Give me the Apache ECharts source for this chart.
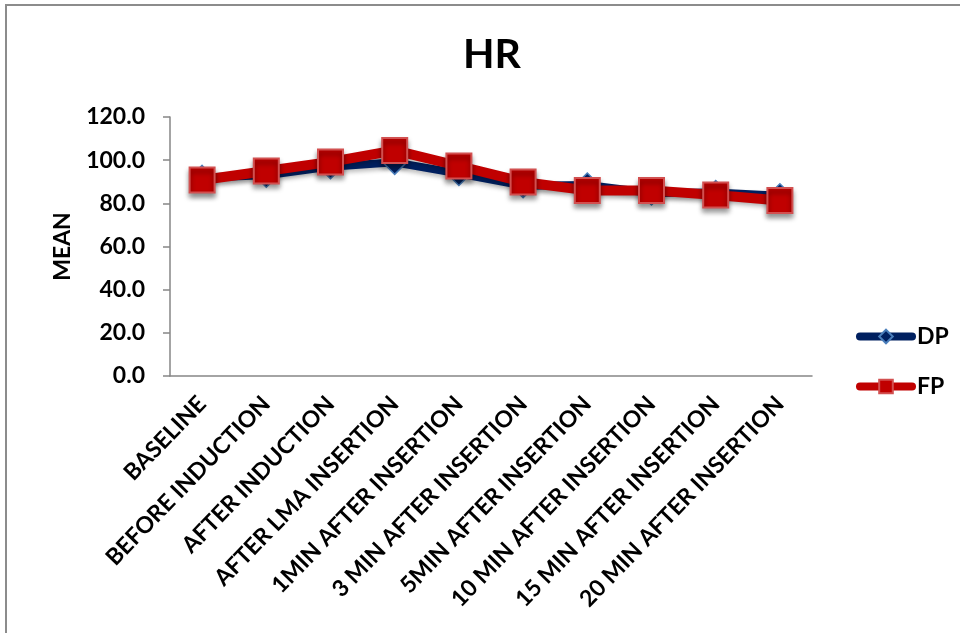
<!DOCTYPE html>
<html>
<head>
<meta charset="utf-8">
<script src="https://cdn.jsdelivr.net/npm/echarts@6/dist/echarts.min.js"></script>
<style>
  html, body { margin: 0; padding: 0; background: #ffffff; }
  #chart { width: 960px; height: 633px; }
</style>
</head>
<body>
<div id="chart"></div>
<script>
// Time points of the heart-rate measurement
const categories = [
  'BASELINE', 'BEFORE INDUCTION', 'AFTER INDUCTION', 'AFTER LMA INSERTION',
  '1MIN AFTER INSERTION', '3 MIN AFTER INSERTION', '5MIN AFTER INSERTION',
  '10 MIN AFTER INSERTION', '15 MIN AFTER INSERTION', '20 MIN AFTER INSERTION'
];

// Mean heart rate per group
const dpValues = [92.0, 93.0, 97.0, 99.0, 93.8, 88.2, 88.5, 84.8, 85.0, 83.5];
const fpValues = [90.8, 95.0, 99.2, 104.5, 97.3, 89.9, 86.0, 86.0, 83.9, 81.3];

// Value axis ticks
const yMin = 0;
const yMax = 120;
const yStep = 20;

const FONT = 'Lato, "Liberation Sans", sans-serif';

const chart = echarts.init(document.getElementById('chart'), null, { renderer: 'canvas' });

chart.setOption({
  backgroundColor: '#ffffff',
  animation: false,
  graphic: [{
    type: 'rect',
    shape: { x: 6, y: 5, width: 1000, height: 700 },
    style: { fill: 'none', stroke: '#8c8c8c', lineWidth: 2 },
    silent: true
  }],
  title: {
    text: 'HR',
    left: 458,
    top: 29,
    textStyle: { fontFamily: FONT, fontSize: 41, fontWeight: 'bold', color: '#000' }
  },
  legend: {
    orient: 'vertical',
    left: 851,
    top: 320,
    itemWidth: 52,
    itemHeight: 17,
    itemGap: 27,
    lineStyle: { width: 8, cap: 'round' },
    textStyle: { fontFamily: FONT, fontSize: 23, fontWeight: 'bold', color: '#000' },
    data: ['DP', 'FP']
  },
  grid: { left: 170, right: 148, top: 117, bottom: 257, containLabel: false },
  xAxis: {
    type: 'category',
    data: categories,
    boundaryGap: true,
    axisLine: { lineStyle: { color: '#868686', width: 1.5 } },
    axisTick: { show: false },
    axisLabel: {
      rotate: 46,
      interval: 0,
      margin: 24,
      fontFamily: FONT,
      fontSize: 23,
      fontWeight: 'bold',
      color: '#000'
    }
  },
  yAxis: {
    type: 'value',
    min: yMin,
    max: yMax,
    interval: yStep,
    name: 'MEAN',
    nameLocation: 'middle',
    nameGap: 96,
    nameRotate: 90,
    nameTextStyle: { fontFamily: FONT, fontSize: 23, fontWeight: 'bold', color: '#000' },
    axisLine: { show: true, lineStyle: { color: '#868686', width: 1.5 } },
    axisTick: { show: true, length: 7, lineStyle: { color: '#868686', width: 1.5 } },
    splitLine: { show: false },
    axisLabel: {
      margin: 25,
      fontFamily: FONT,
      fontSize: 23,
      fontWeight: 'bold',
      color: '#000',
      formatter: v => v.toFixed(1)
    }
  },
  series: [
    {
      name: 'DP',
      type: 'line',
      data: dpValues,
      symbol: 'diamond',
      symbolSize: 24,
      color: '#002060',
      lineStyle: { color: '#002060', width: 8, shadowColor: 'rgba(0,0,0,0.25)', shadowBlur: 4, shadowOffsetY: 3 },
      itemStyle: { color: '#002060', borderColor: '#4a7ebb', borderWidth: 1.5 },
      z: 2
    },
    {
      name: 'FP',
      type: 'line',
      data: fpValues,
      symbol: 'rect',
      symbolSize: 25,
      color: '#c00000',
      lineStyle: { color: '#c00000', width: 10, shadowColor: 'rgba(0,0,0,0.25)', shadowBlur: 4, shadowOffsetY: 3 },
      itemStyle: {
        color: '#c00000', borderColor: '#d25050', borderWidth: 2,
        shadowColor: 'rgba(0,0,0,0.45)', shadowBlur: 5, shadowOffsetY: 4
      },
      z: 3
    }
  ]
});
</script>
</body>
</html>
